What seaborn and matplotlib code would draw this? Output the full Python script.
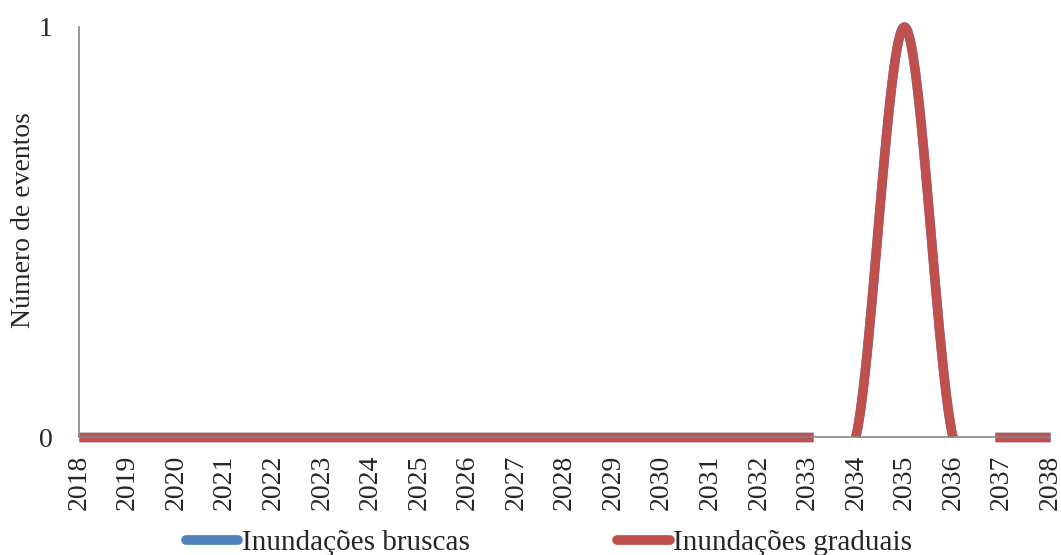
import matplotlib
matplotlib.use("Agg")
import matplotlib.pyplot as plt
from matplotlib.lines import Line2D
import seaborn as sns
import numpy as np
import pandas as pd

# yearly number of events
years = list(range(2018, 2039))
bruscas = [0, 0, 0, 0, 0, 0, 0, 0, 0, 0, 0, 0, 0, 0, 0, 0, 0, 1, 0, 0, 0]
graduais = [0, 0, 0, 0, 0, 0, 0, 0, 0, 0, 0, 0, 0, 0, 0, 0, 0, 1, 0, 0, 0]

series_names = ["Inundações bruscas", "Inundações graduais"]
colors = ["#4F81BD", "#C0504D"]


def smooth_segments(xs, ys, name, n=40):
    # Excel style smoothed line (bezier through the points), cut where it drops below 0
    xs = np.asarray(xs, float)
    ys = np.asarray(ys, float)
    rows = []
    seg = 0
    below = False
    for i in range(len(xs) - 1):
        p0 = i - 1 if i > 0 else i
        p3 = i + 2 if i + 2 < len(xs) else i + 1
        c1 = (xs[i] + (xs[i + 1] - xs[p0]) / 6, ys[i] + (ys[i + 1] - ys[p0]) / 6)
        c2 = (xs[i + 1] - (xs[p3] - xs[i]) / 6, ys[i + 1] - (ys[p3] - ys[i]) / 6)
        for t in np.linspace(0, 1, n, endpoint=(i == len(xs) - 2)):
            a, b, c, d = (1 - t) ** 3, 3 * (1 - t) ** 2 * t, 3 * (1 - t) * t ** 2, t ** 3
            x = a * xs[i] + b * c1[0] + c * c2[0] + d * xs[i + 1]
            y = a * ys[i] + b * c1[1] + c * c2[1] + d * ys[i + 1]
            if y < -0.008:
                below = True
                continue
            if below:
                seg += 1
                below = False
            rows.append({"x": x, "y": max(y, 0), "seg": seg, "serie": name})
    return pd.DataFrame(rows)


sns.set_style("white")
plt.rcParams["font.family"] = ["Liberation Serif", "DejaVu Serif"]

fig = plt.figure(figsize=(10.61, 5.55), dpi=100)
ax = fig.add_axes([0.0745, 0.2126, 0.9152, 0.7388])

for name, vals, col in zip(series_names, [bruscas, graduais], colors):
    df = smooth_segments(years, vals, name)
    sns.lineplot(data=df, x="x", y="y", units="seg", estimator=None, sort=False,
                 color=col, linewidth=6.8, ax=ax, clip_on=False, legend=False,
                 solid_capstyle="butt", solid_joinstyle="round")

ax.set_xlim(2018, 2038)
ax.set_ylim(0, 1)
ax.set_xticks(years)
ax.set_xticklabels([str(y) for y in years], rotation=90, fontsize=20)
ax.set_yticks([0, 1])
ax.set_yticklabels(["0", "1"], fontsize=20)
ax.tick_params(axis="both", length=0)
ax.tick_params(axis="y", pad=19)
ax.tick_params(axis="x", pad=13)
ax.set_xlabel("")
ax.set_ylabel("Número de eventos", fontsize=20)
ax.yaxis.set_label_coords(-0.044, 0.53)

for s in ["top", "right"]:
    ax.spines[s].set_visible(False)
for s in ["left", "bottom"]:
    ax.spines[s].set_color("#868686")
    ax.spines[s].set_linewidth(1.2)
ax.grid(False)

handles = [Line2D([0], [0], color=c, linewidth=7, solid_capstyle="round") for c in colors]
fig.legend(handles, series_names, loc="center", bbox_to_anchor=(0.5175, 0.022), ncol=2,
           frameon=False, fontsize=21, handlelength=1.8, handletextpad=0.12,
           columnspacing=5.05, borderpad=0)

fig.savefig("out.png", dpi=100)
